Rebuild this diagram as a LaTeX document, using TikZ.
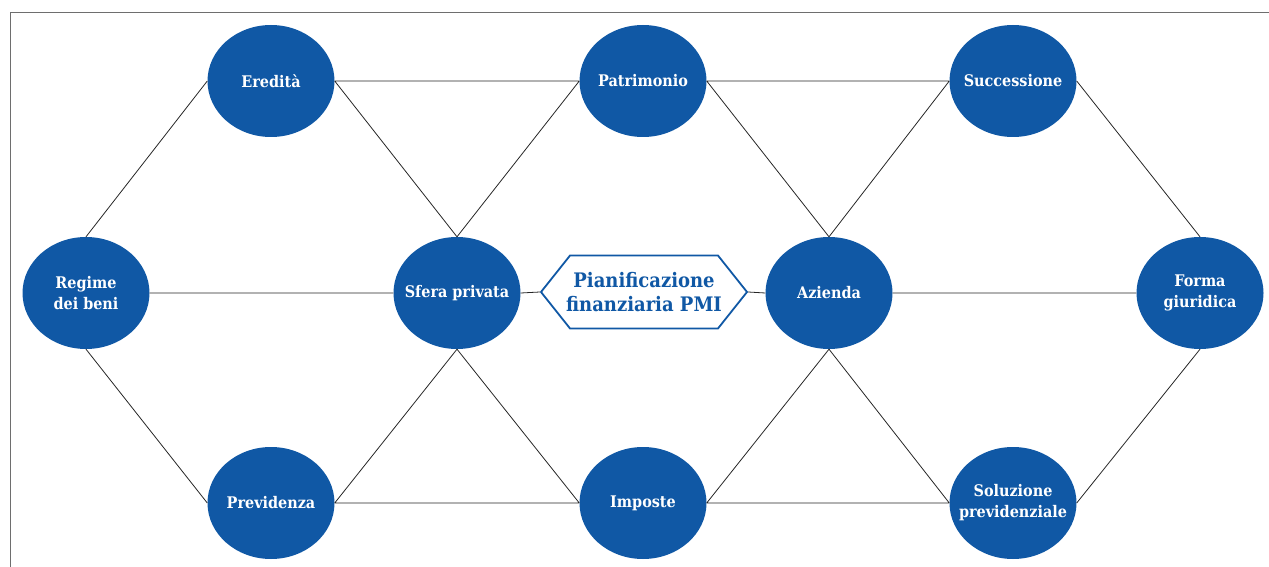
\documentclass[tikz,border=0pt]{standalone}
\usepackage{fontspec}
\setmainfont{DejaVu Serif Condensed}
\usetikzlibrary{shapes.geometric,shapes.symbols}
\definecolor{nodeblue}{HTML}{1058A5}
\definecolor{framegray}{HTML}{6E6E6E}
\begin{document}
\begin{tikzpicture}[x=1pt,y=-1pt,
  topic/.style={ellipse, fill=nodeblue, draw=none, minimum width=127pt, minimum height=112pt,
    inner xsep=-30pt, inner ysep=-15pt,
    text=white, align=center, font=\fontsize{16}{21}\selectfont\bfseries},
  hub/.style={signal, signal to=east and west, signal pointer angle=103, draw=nodeblue, line width=1.8pt,
    fill=white, minimum width=206pt, minimum height=73pt, inner xsep=-20pt, inner ysep=0pt,
    text=nodeblue, align=center, font=\fontsize{20}{24}\selectfont\bfseries},
  link/.style={draw=black!85, line width=0.8pt}]
\useasboundingbox (0,0) rectangle (1269,567);
\draw[framegray, line width=1pt] (10,567) -- (10,13) -- (1269,13);

\node[topic] (ered) at (271,81) {Eredità};
\node[topic] (patr) at (643,81) {Patrimonio};
\node[topic] (succ) at (1013,81) {Successione};
\node[topic] (regi) at (86,293) {Regime\\dei beni};
\node[topic] (sfer) at (457,293) {Sfera privata};
\node[topic] (azie) at (829,293) {Azienda};
\node[topic] (form) at (1200,293) {Forma\\giuridica};
\node[topic] (prev) at (271,503) {Previdenza};
\node[topic] (impo) at (643,503) {Imposte};
\node[topic] (solu) at (1013,503) {Soluzione\\previdenziale};
\node[hub] (pian) at (644,292) {Pianificazione\\finanziaria PMI};

\path[link]
  (ered.west) -- (regi.north)
  (ered.east) -- (patr.west)
  (ered.east) -- (sfer.north)
  (sfer.north) -- (patr.west)
  (patr.east) -- (succ.west)
  (patr.east) -- (azie.north)
  (azie.north) -- (succ.west)
  (succ.east) -- (form.north)
  (regi.east) -- (sfer.west)
  (sfer.east) -- (pian.west)
  (pian.east) -- (azie.west)
  (azie.east) -- (form.west)
  (prev.west) -- (regi.south)
  (prev.east) -- (impo.west)
  (prev.east) -- (sfer.south)
  (sfer.south) -- (impo.west)
  (impo.east) -- (solu.west)
  (impo.east) -- (azie.south)
  (azie.south) -- (solu.west)
  (solu.east) -- (form.south);
\end{tikzpicture}
\end{document}
